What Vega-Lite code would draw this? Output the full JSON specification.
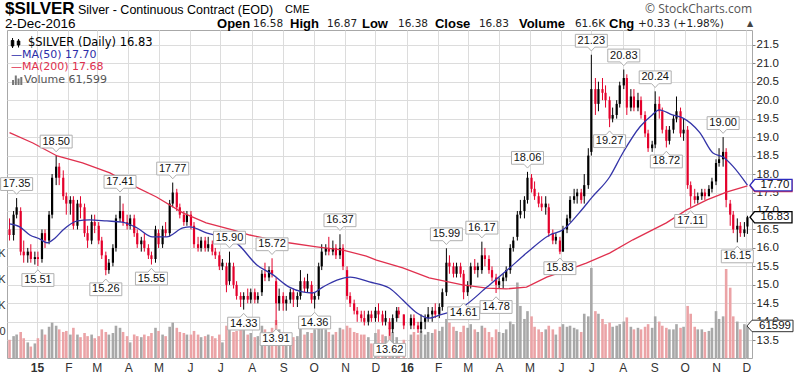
{
"$schema":"https://vega.github.io/schema/vega-lite/v6.json",
"width":745,"height":328,"autosize":"none",
"padding":{"left":7,"top":30,"right":48,"bottom":25},
"background":"white",
"config":{"view":{"stroke":"#a8a8a8","strokeWidth":1},"axis":{"domain":false,"gridColor":"#dcdcdc","gridWidth":1,"labelFont":"Liberation Sans","labelColor":"#333"}},
"datasets":{
"c":[
{"d":"2014-12-05","o":16.5,"h":16.8,"l":16.2,"c":16.35,"v":35},
{"d":"2014-12-09","o":16.35,"h":17.0,"l":16.2,"c":16.9,"v":42},
{"d":"2014-12-12","o":16.9,"h":17.35,"l":16.8,"c":17.1,"v":45},
{"d":"2014-12-16","o":17.0,"h":17.1,"l":15.8,"c":15.9,"v":50},
{"d":"2014-12-19","o":15.9,"h":16.2,"l":15.6,"c":15.8,"v":38},
{"d":"2014-12-23","o":15.8,"h":16.0,"l":15.6,"c":15.9,"v":30},
{"d":"2014-12-26","o":15.9,"h":16.1,"l":15.6,"c":15.7,"v":22},
{"d":"2014-12-30","o":15.7,"h":15.9,"l":15.55,"c":15.75,"v":28},
{"d":"2015-01-02","o":15.75,"h":15.9,"l":15.51,"c":15.7,"v":38},
{"d":"2015-01-06","o":15.7,"h":16.5,"l":15.6,"c":16.4,"v":55},
{"d":"2015-01-09","o":16.4,"h":16.5,"l":16.0,"c":16.2,"v":45},
{"d":"2015-01-13","o":16.2,"h":17.0,"l":16.1,"c":16.9,"v":60},
{"d":"2015-01-16","o":16.9,"h":18.0,"l":16.8,"c":17.9,"v":68},
{"d":"2015-01-20","o":17.9,"h":18.5,"l":17.7,"c":18.2,"v":62},
{"d":"2015-01-23","o":18.2,"h":18.3,"l":17.7,"c":17.9,"v":55},
{"d":"2015-01-27","o":17.9,"h":18.1,"l":17.3,"c":17.4,"v":50},
{"d":"2015-01-30","o":17.4,"h":17.5,"l":16.9,"c":17.2,"v":52},
{"d":"2015-02-03","o":17.2,"h":17.4,"l":16.9,"c":17.3,"v":45},
{"d":"2015-02-06","o":17.3,"h":17.4,"l":16.5,"c":16.6,"v":58},
{"d":"2015-02-10","o":16.6,"h":17.3,"l":16.5,"c":17.2,"v":45},
{"d":"2015-02-13","o":17.2,"h":17.4,"l":16.8,"c":17.1,"v":40},
{"d":"2015-02-17","o":17.1,"h":17.2,"l":16.3,"c":16.4,"v":48},
{"d":"2015-02-20","o":16.4,"h":16.6,"l":16.0,"c":16.2,"v":42},
{"d":"2015-02-24","o":16.2,"h":16.9,"l":16.1,"c":16.7,"v":45},
{"d":"2015-02-27","o":16.7,"h":16.9,"l":16.4,"c":16.6,"v":38},
{"d":"2015-03-03","o":16.6,"h":16.7,"l":16.1,"c":16.2,"v":42},
{"d":"2015-03-06","o":16.2,"h":16.3,"l":15.7,"c":15.8,"v":55},
{"d":"2015-03-10","o":15.8,"h":15.9,"l":15.26,"c":15.4,"v":50},
{"d":"2015-03-13","o":15.4,"h":15.7,"l":15.3,"c":15.6,"v":45},
{"d":"2015-03-17","o":15.6,"h":16.1,"l":15.5,"c":16.0,"v":48},
{"d":"2015-03-20","o":16.0,"h":16.9,"l":15.9,"c":16.8,"v":62},
{"d":"2015-03-24","o":16.8,"h":17.41,"l":16.7,"c":17.0,"v":58},
{"d":"2015-03-27","o":17.0,"h":17.2,"l":16.6,"c":16.7,"v":50},
{"d":"2015-03-31","o":16.7,"h":16.9,"l":16.5,"c":16.6,"v":42},
{"d":"2015-04-03","o":16.6,"h":16.9,"l":16.5,"c":16.8,"v":30},
{"d":"2015-04-07","o":16.8,"h":16.9,"l":16.3,"c":16.4,"v":45},
{"d":"2015-04-10","o":16.4,"h":16.5,"l":16.0,"c":16.1,"v":42},
{"d":"2015-04-14","o":16.1,"h":16.3,"l":15.9,"c":16.2,"v":40},
{"d":"2015-04-17","o":16.2,"h":16.4,"l":15.9,"c":16.0,"v":45},
{"d":"2015-04-21","o":16.0,"h":16.1,"l":15.7,"c":15.8,"v":42},
{"d":"2015-04-24","o":15.8,"h":15.9,"l":15.55,"c":15.7,"v":48},
{"d":"2015-04-28","o":15.7,"h":16.6,"l":15.6,"c":16.5,"v":58},
{"d":"2015-05-01","o":16.4,"h":16.5,"l":16.0,"c":16.1,"v":52},
{"d":"2015-05-05","o":16.1,"h":16.6,"l":16.0,"c":16.5,"v":45},
{"d":"2015-05-08","o":16.5,"h":16.7,"l":16.3,"c":16.4,"v":42},
{"d":"2015-05-12","o":16.4,"h":17.3,"l":16.3,"c":17.2,"v":60},
{"d":"2015-05-15","o":17.2,"h":17.77,"l":17.1,"c":17.5,"v":68},
{"d":"2015-05-19","o":17.5,"h":17.6,"l":17.0,"c":17.1,"v":58},
{"d":"2015-05-22","o":17.1,"h":17.2,"l":16.8,"c":16.9,"v":50},
{"d":"2015-05-26","o":16.9,"h":17.0,"l":16.6,"c":16.7,"v":48},
{"d":"2015-05-29","o":16.7,"h":17.0,"l":16.6,"c":16.9,"v":45},
{"d":"2015-06-02","o":16.9,"h":17.0,"l":16.5,"c":16.6,"v":45},
{"d":"2015-06-05","o":16.6,"h":16.7,"l":16.0,"c":16.1,"v":52},
{"d":"2015-06-09","o":16.1,"h":16.3,"l":15.9,"c":16.0,"v":45},
{"d":"2015-06-12","o":16.0,"h":16.3,"l":15.9,"c":16.2,"v":40},
{"d":"2015-06-16","o":16.2,"h":16.3,"l":15.9,"c":16.0,"v":42},
{"d":"2015-06-19","o":16.0,"h":16.3,"l":15.9,"c":16.1,"v":45},
{"d":"2015-06-23","o":16.1,"h":16.2,"l":15.8,"c":15.9,"v":42},
{"d":"2015-06-26","o":15.9,"h":16.0,"l":15.7,"c":15.8,"v":38},
{"d":"2015-06-30","o":15.8,"h":15.9,"l":15.4,"c":15.5,"v":45},
{"d":"2015-07-03","o":15.5,"h":15.7,"l":15.4,"c":15.6,"v":30},
{"d":"2015-07-07","o":15.5,"h":15.6,"l":14.8,"c":15.0,"v":62},
{"d":"2015-07-10","o":15.1,"h":15.9,"l":15.0,"c":15.6,"v":55},
{"d":"2015-07-14","o":15.5,"h":15.6,"l":14.9,"c":15.0,"v":50},
{"d":"2015-07-17","o":15.0,"h":15.1,"l":14.6,"c":14.7,"v":52},
{"d":"2015-07-21","o":14.7,"h":14.8,"l":14.4,"c":14.6,"v":60},
{"d":"2015-07-24","o":14.6,"h":14.8,"l":14.33,"c":14.7,"v":58},
{"d":"2015-07-28","o":14.7,"h":14.9,"l":14.5,"c":14.6,"v":45},
{"d":"2015-07-31","o":14.6,"h":14.9,"l":14.5,"c":14.8,"v":48},
{"d":"2015-08-04","o":14.8,"h":14.9,"l":14.5,"c":14.6,"v":40},
{"d":"2015-08-07","o":14.6,"h":14.8,"l":14.5,"c":14.7,"v":42},
{"d":"2015-08-11","o":14.8,"h":15.4,"l":14.7,"c":15.3,"v":62},
{"d":"2015-08-14","o":15.3,"h":15.6,"l":15.1,"c":15.2,"v":55},
{"d":"2015-08-18","o":15.2,"h":15.5,"l":15.1,"c":15.4,"v":50},
{"d":"2015-08-21","o":15.4,"h":15.72,"l":15.2,"c":15.3,"v":58},
{"d":"2015-08-25","o":15.1,"h":15.2,"l":13.91,"c":14.5,"v":73},
{"d":"2015-08-28","o":14.5,"h":14.9,"l":14.3,"c":14.7,"v":55},
{"d":"2015-09-01","o":14.7,"h":14.8,"l":14.3,"c":14.5,"v":50},
{"d":"2015-09-04","o":14.5,"h":14.7,"l":14.3,"c":14.6,"v":42},
{"d":"2015-09-08","o":14.6,"h":14.9,"l":14.5,"c":14.8,"v":45},
{"d":"2015-09-11","o":14.8,"h":14.9,"l":14.4,"c":14.6,"v":40},
{"d":"2015-09-15","o":14.6,"h":14.8,"l":14.4,"c":14.7,"v":42},
{"d":"2015-09-18","o":14.7,"h":15.4,"l":14.6,"c":15.1,"v":62},
{"d":"2015-09-22","o":15.1,"h":15.2,"l":14.8,"c":14.9,"v":45},
{"d":"2015-09-25","o":14.9,"h":15.3,"l":14.8,"c":15.1,"v":50},
{"d":"2015-09-29","o":15.0,"h":15.1,"l":14.5,"c":14.6,"v":48},
{"d":"2015-10-02","o":14.6,"h":14.8,"l":14.36,"c":14.7,"v":55},
{"d":"2015-10-06","o":14.7,"h":15.6,"l":14.6,"c":15.5,"v":62},
{"d":"2015-10-09","o":15.5,"h":16.1,"l":15.4,"c":15.9,"v":65},
{"d":"2015-10-13","o":15.9,"h":16.1,"l":15.8,"c":16.0,"v":55},
{"d":"2015-10-16","o":16.0,"h":16.3,"l":15.8,"c":15.9,"v":50},
{"d":"2015-10-20","o":15.9,"h":16.2,"l":15.8,"c":16.0,"v":45},
{"d":"2015-10-23","o":16.0,"h":16.1,"l":15.7,"c":15.8,"v":50},
{"d":"2015-10-27","o":15.8,"h":16.37,"l":15.7,"c":16.0,"v":58},
{"d":"2015-10-30","o":16.0,"h":16.1,"l":15.4,"c":15.5,"v":55},
{"d":"2015-11-03","o":15.4,"h":15.5,"l":14.6,"c":14.7,"v":62},
{"d":"2015-11-06","o":14.7,"h":14.8,"l":14.4,"c":14.5,"v":58},
{"d":"2015-11-10","o":14.5,"h":14.6,"l":14.2,"c":14.3,"v":50},
{"d":"2015-11-13","o":14.3,"h":14.4,"l":14.0,"c":14.2,"v":48},
{"d":"2015-11-17","o":14.2,"h":14.3,"l":14.0,"c":14.1,"v":45},
{"d":"2015-11-20","o":14.1,"h":14.3,"l":13.9,"c":14.0,"v":45},
{"d":"2015-11-24","o":14.0,"h":14.3,"l":13.9,"c":14.2,"v":40},
{"d":"2015-11-27","o":14.2,"h":14.3,"l":14.0,"c":14.1,"v":28},
{"d":"2015-12-01","o":14.1,"h":14.4,"l":14.0,"c":14.3,"v":48},
{"d":"2015-12-04","o":14.3,"h":14.5,"l":14.0,"c":14.2,"v":55},
{"d":"2015-12-08","o":14.2,"h":14.3,"l":13.9,"c":14.0,"v":45},
{"d":"2015-12-11","o":14.0,"h":14.3,"l":13.9,"c":14.1,"v":42},
{"d":"2015-12-15","o":14.0,"h":14.1,"l":13.62,"c":13.8,"v":58},
{"d":"2015-12-18","o":13.8,"h":14.2,"l":13.7,"c":14.1,"v":50},
{"d":"2015-12-22","o":14.1,"h":14.4,"l":14.0,"c":14.3,"v":40},
{"d":"2015-12-24","o":14.3,"h":14.4,"l":14.1,"c":14.2,"v":22},
{"d":"2015-12-29","o":14.2,"h":14.2,"l":13.8,"c":13.9,"v":35},
{"d":"2016-01-05","o":13.9,"h":14.2,"l":13.8,"c":14.1,"v":45},
{"d":"2016-01-08","o":14.1,"h":14.2,"l":13.8,"c":13.9,"v":50},
{"d":"2016-01-12","o":13.9,"h":14.0,"l":13.7,"c":13.8,"v":45},
{"d":"2016-01-15","o":13.8,"h":14.2,"l":13.7,"c":14.0,"v":52},
{"d":"2016-01-19","o":14.0,"h":14.2,"l":13.8,"c":14.1,"v":45},
{"d":"2016-01-22","o":14.1,"h":14.4,"l":14.0,"c":14.2,"v":50},
{"d":"2016-01-26","o":14.2,"h":14.4,"l":14.0,"c":14.3,"v":48},
{"d":"2016-01-29","o":14.3,"h":14.5,"l":14.1,"c":14.2,"v":55},
{"d":"2016-02-02","o":14.2,"h":14.5,"l":14.1,"c":14.4,"v":52},
{"d":"2016-02-05","o":14.4,"h":14.9,"l":14.3,"c":14.8,"v":60},
{"d":"2016-02-09","o":14.8,"h":15.99,"l":14.7,"c":15.6,"v":75},
{"d":"2016-02-12","o":15.6,"h":15.8,"l":15.3,"c":15.5,"v":68},
{"d":"2016-02-16","o":15.5,"h":15.6,"l":15.2,"c":15.3,"v":60},
{"d":"2016-02-19","o":15.3,"h":15.6,"l":15.2,"c":15.5,"v":52},
{"d":"2016-02-23","o":15.5,"h":15.6,"l":15.2,"c":15.3,"v":50},
{"d":"2016-02-26","o":15.3,"h":15.4,"l":14.61,"c":14.8,"v":62},
{"d":"2016-03-01","o":14.8,"h":15.1,"l":14.7,"c":15.0,"v":58},
{"d":"2016-03-04","o":15.0,"h":15.6,"l":14.9,"c":15.5,"v":65},
{"d":"2016-03-08","o":15.5,"h":15.7,"l":15.3,"c":15.4,"v":55},
{"d":"2016-03-11","o":15.4,"h":15.6,"l":15.2,"c":15.5,"v":50},
{"d":"2016-03-15","o":15.4,"h":16.17,"l":15.3,"c":15.8,"v":62},
{"d":"2016-03-18","o":15.8,"h":16.0,"l":15.5,"c":15.7,"v":58},
{"d":"2016-03-22","o":15.7,"h":15.8,"l":15.3,"c":15.4,"v":50},
{"d":"2016-03-25","o":15.4,"h":15.5,"l":15.1,"c":15.2,"v":40},
{"d":"2016-03-29","o":15.2,"h":15.3,"l":14.78,"c":15.0,"v":55},
{"d":"2016-04-01","o":15.0,"h":15.2,"l":14.9,"c":15.1,"v":50},
{"d":"2016-04-05","o":15.1,"h":15.3,"l":14.9,"c":15.2,"v":48},
{"d":"2016-04-08","o":15.2,"h":15.5,"l":15.1,"c":15.4,"v":55},
{"d":"2016-04-12","o":15.4,"h":16.1,"l":15.3,"c":16.0,"v":70},
{"d":"2016-04-15","o":16.0,"h":16.3,"l":15.9,"c":16.2,"v":65},
{"d":"2016-04-19","o":16.3,"h":17.0,"l":16.2,"c":16.9,"v":145},
{"d":"2016-04-22","o":16.9,"h":17.3,"l":16.8,"c":17.0,"v":100},
{"d":"2016-04-26","o":17.0,"h":17.4,"l":16.8,"c":17.3,"v":75},
{"d":"2016-04-29","o":17.3,"h":18.06,"l":17.2,"c":17.9,"v":90},
{"d":"2016-05-03","o":17.9,"h":18.0,"l":17.5,"c":17.6,"v":80},
{"d":"2016-05-06","o":17.6,"h":17.8,"l":17.3,"c":17.4,"v":60},
{"d":"2016-05-10","o":17.4,"h":17.5,"l":17.1,"c":17.2,"v":55},
{"d":"2016-05-13","o":17.2,"h":17.4,"l":17.0,"c":17.1,"v":50},
{"d":"2016-05-17","o":17.1,"h":17.4,"l":16.9,"c":17.2,"v":55},
{"d":"2016-05-20","o":17.1,"h":17.2,"l":16.3,"c":16.4,"v":62},
{"d":"2016-05-24","o":16.4,"h":16.5,"l":16.1,"c":16.2,"v":55},
{"d":"2016-05-27","o":16.2,"h":16.4,"l":16.1,"c":16.3,"v":45},
{"d":"2016-05-31","o":16.2,"h":16.3,"l":15.83,"c":15.9,"v":60},
{"d":"2016-06-03","o":15.9,"h":16.6,"l":15.9,"c":16.5,"v":65},
{"d":"2016-06-07","o":16.5,"h":16.9,"l":16.4,"c":16.8,"v":60},
{"d":"2016-06-10","o":16.8,"h":17.4,"l":16.7,"c":17.3,"v":62},
{"d":"2016-06-14","o":17.3,"h":17.6,"l":17.2,"c":17.4,"v":58},
{"d":"2016-06-17","o":17.4,"h":17.6,"l":17.2,"c":17.5,"v":55},
{"d":"2016-06-21","o":17.5,"h":17.6,"l":17.2,"c":17.3,"v":50},
{"d":"2016-06-24","o":17.4,"h":18.0,"l":17.2,"c":17.7,"v":85},
{"d":"2016-06-28","o":17.7,"h":18.7,"l":17.6,"c":18.5,"v":80},
{"d":"2016-07-01","o":18.6,"h":21.23,"l":18.5,"c":20.3,"v":173},
{"d":"2016-07-05","o":20.3,"h":20.6,"l":19.6,"c":19.9,"v":90},
{"d":"2016-07-08","o":19.9,"h":20.5,"l":19.7,"c":20.3,"v":85},
{"d":"2016-07-12","o":20.3,"h":20.6,"l":20.0,"c":20.2,"v":75},
{"d":"2016-07-15","o":20.2,"h":20.4,"l":19.8,"c":20.0,"v":65},
{"d":"2016-07-19","o":20.0,"h":20.1,"l":19.27,"c":19.5,"v":68},
{"d":"2016-07-22","o":19.5,"h":19.8,"l":19.4,"c":19.6,"v":60},
{"d":"2016-07-26","o":19.6,"h":20.0,"l":19.5,"c":19.9,"v":62},
{"d":"2016-07-29","o":19.9,"h":20.5,"l":19.8,"c":20.4,"v":65},
{"d":"2016-08-02","o":20.4,"h":20.83,"l":20.3,"c":20.6,"v":70},
{"d":"2016-08-05","o":20.6,"h":20.7,"l":19.6,"c":19.8,"v":78},
{"d":"2016-08-09","o":19.8,"h":20.3,"l":19.7,"c":20.1,"v":60},
{"d":"2016-08-12","o":20.1,"h":20.3,"l":19.7,"c":19.8,"v":55},
{"d":"2016-08-16","o":19.8,"h":20.2,"l":19.7,"c":20.0,"v":58},
{"d":"2016-08-19","o":20.0,"h":20.1,"l":19.5,"c":19.6,"v":55},
{"d":"2016-08-23","o":19.6,"h":19.7,"l":19.0,"c":19.1,"v":60},
{"d":"2016-08-26","o":19.1,"h":19.2,"l":18.6,"c":18.7,"v":65},
{"d":"2016-08-30","o":18.7,"h":18.9,"l":18.6,"c":18.8,"v":58},
{"d":"2016-09-02","o":18.8,"h":20.24,"l":18.7,"c":19.9,"v":80},
{"d":"2016-09-06","o":19.9,"h":20.1,"l":19.5,"c":19.7,"v":70},
{"d":"2016-09-09","o":19.7,"h":19.8,"l":19.1,"c":19.2,"v":62},
{"d":"2016-09-13","o":19.2,"h":19.3,"l":18.72,"c":18.9,"v":58},
{"d":"2016-09-16","o":18.9,"h":19.3,"l":18.8,"c":19.2,"v":55},
{"d":"2016-09-20","o":19.2,"h":19.6,"l":19.1,"c":19.5,"v":55},
{"d":"2016-09-23","o":19.5,"h":20.1,"l":19.4,"c":19.7,"v":65},
{"d":"2016-09-27","o":19.7,"h":19.8,"l":19.0,"c":19.1,"v":58},
{"d":"2016-09-30","o":19.1,"h":19.5,"l":18.9,"c":19.2,"v":60},
{"d":"2016-10-04","o":19.2,"h":19.3,"l":17.6,"c":17.7,"v":100},
{"d":"2016-10-07","o":17.7,"h":17.8,"l":17.11,"c":17.4,"v":85},
{"d":"2016-10-11","o":17.4,"h":17.6,"l":17.2,"c":17.3,"v":60},
{"d":"2016-10-14","o":17.3,"h":17.5,"l":17.2,"c":17.4,"v":55},
{"d":"2016-10-18","o":17.4,"h":17.6,"l":17.3,"c":17.5,"v":55},
{"d":"2016-10-21","o":17.5,"h":17.6,"l":17.3,"c":17.4,"v":50},
{"d":"2016-10-25","o":17.4,"h":17.7,"l":17.4,"c":17.6,"v":52},
{"d":"2016-10-28","o":17.6,"h":17.9,"l":17.5,"c":17.8,"v":58},
{"d":"2016-11-01","o":17.8,"h":18.4,"l":17.7,"c":18.3,"v":90},
{"d":"2016-11-04","o":18.3,"h":18.7,"l":18.2,"c":18.4,"v":75},
{"d":"2016-11-08","o":18.4,"h":19.0,"l":18.2,"c":18.6,"v":80},
{"d":"2016-11-11","o":18.6,"h":18.7,"l":17.1,"c":17.3,"v":171},
{"d":"2016-11-15","o":17.2,"h":17.3,"l":16.6,"c":16.9,"v":135},
{"d":"2016-11-18","o":16.9,"h":17.0,"l":16.4,"c":16.5,"v":80},
{"d":"2016-11-22","o":16.5,"h":16.8,"l":16.15,"c":16.6,"v":70},
{"d":"2016-11-25","o":16.6,"h":16.7,"l":16.3,"c":16.4,"v":55},
{"d":"2016-11-29","o":16.4,"h":16.7,"l":16.3,"c":16.5,"v":65},
{"d":"2016-12-02","o":16.58,"h":16.87,"l":16.38,"c":16.83,"v":61.6}
],
"ma50":[
{"d":"2014-12-05","m":16.65},{"d":"2014-12-15","m":16.57},{"d":"2014-12-25","m":16.35},{"d":"2015-01-04","m":16.24},{"d":"2015-01-11","m":16.14},{"d":"2015-01-19","m":16.27},{"d":"2015-01-27","m":16.49},{"d":"2015-02-10","m":16.73},{"d":"2015-02-22","m":16.76},{"d":"2015-03-11","m":16.73},{"d":"2015-03-26","m":16.70},{"d":"2015-04-10","m":16.54},{"d":"2015-04-25","m":16.30},{"d":"2015-05-09","m":16.30},{"d":"2015-05-25","m":16.54},{"d":"2015-06-01","m":16.57},{"d":"2015-06-18","m":16.40},{"d":"2015-07-03","m":16.30},{"d":"2015-07-17","m":16.13},{"d":"2015-08-06","m":15.54},{"d":"2015-08-22","m":15.27},{"d":"2015-09-07","m":14.94},{"d":"2015-09-20","m":14.81},{"d":"2015-09-30","m":14.78},{"d":"2015-10-10","m":14.94},{"d":"2015-10-24","m":15.13},{"d":"2015-11-06","m":15.21},{"d":"2015-11-25","m":15.08},{"d":"2015-12-15","m":14.91},{"d":"2015-12-28","m":14.59},{"d":"2016-01-11","m":14.24},{"d":"2016-01-23","m":14.10},{"d":"2016-02-02","m":14.18},{"d":"2016-02-25","m":14.40},{"d":"2016-03-20","m":14.94},{"d":"2016-04-09","m":15.40},{"d":"2016-04-28","m":15.86},{"d":"2016-05-21","m":16.35},{"d":"2016-06-03","m":16.49},{"d":"2016-06-19","m":16.95},{"d":"2016-07-02","m":17.38},{"d":"2016-07-19","m":17.92},{"d":"2016-08-01","m":18.57},{"d":"2016-08-18","m":19.28},{"d":"2016-08-30","m":19.60},{"d":"2016-09-06","m":19.74},{"d":"2016-09-19","m":19.60},{"d":"2016-09-29","m":19.52},{"d":"2016-10-16","m":19.12},{"d":"2016-10-29","m":18.57},{"d":"2016-11-08","m":18.46},{"d":"2016-11-18","m":18.20},{"d":"2016-12-02","m":17.70}
],
"ma200":[
{"d":"2014-12-05","m":19.12},{"d":"2014-12-28","m":18.84},{"d":"2015-01-21","m":18.49},{"d":"2015-02-15","m":18.30},{"d":"2015-03-14","m":18.03},{"d":"2015-04-05","m":17.70},{"d":"2015-04-29","m":17.38},{"d":"2015-05-25","m":16.95},{"d":"2015-06-17","m":16.68},{"d":"2015-07-13","m":16.49},{"d":"2015-07-30","m":16.35},{"d":"2015-09-01","m":16.16},{"d":"2015-10-04","m":16.03},{"d":"2015-10-30","m":15.94},{"d":"2015-11-22","m":15.78},{"d":"2015-12-02","m":15.67},{"d":"2015-12-28","m":15.46},{"d":"2016-01-23","m":15.19},{"d":"2016-02-25","m":15.00},{"d":"2016-03-20","m":14.91},{"d":"2016-04-08","m":14.89},{"d":"2016-04-28","m":14.94},{"d":"2016-05-18","m":15.21},{"d":"2016-06-07","m":15.40},{"d":"2016-06-26","m":15.59},{"d":"2016-07-19","m":15.86},{"d":"2016-08-11","m":16.22},{"d":"2016-09-13","m":16.68},{"d":"2016-10-03","m":17.03},{"d":"2016-10-23","m":17.30},{"d":"2016-11-12","m":17.52},{"d":"2016-12-02","m":17.68}
],
"hi":[
{"d":"2014-12-12","p":17.35},{"d":"2015-01-20","p":18.50},{"d":"2015-03-24","p":17.41},{"d":"2015-05-15","p":17.77},{"d":"2015-07-10","p":15.90},{"d":"2015-08-21","p":15.72},{"d":"2015-10-27","p":16.37},{"d":"2016-02-09","p":15.99},{"d":"2016-03-15","p":16.17},{"d":"2016-04-29","p":18.06},{"d":"2016-07-01","p":21.23},{"d":"2016-08-02","p":20.83},{"d":"2016-09-02","p":20.24},{"d":"2016-11-08","p":19.00}
],
"lo":[
{"d":"2015-01-02","p":15.51},{"d":"2015-03-10","p":15.26},{"d":"2015-04-24","p":15.55},{"d":"2015-07-24","p":14.33},{"d":"2015-08-25","p":13.91},{"d":"2015-10-02","p":14.36},{"d":"2015-12-15","p":13.62},{"d":"2016-02-26","p":14.61},{"d":"2016-03-29","p":14.78},{"d":"2016-05-31","p":15.83},{"d":"2016-07-19","p":19.27},{"d":"2016-09-13","p":18.72},{"d":"2016-10-07","p":17.11},{"d":"2016-11-22","p":16.15}
],
"tags":[
{"k":"ma200","p":17.68,"t":"17.68"},{"k":"ma50","p":17.70,"t":"17.70"},{"k":"last","p":16.83,"t":"16.83"}
]
},
"resolve":{"scale":{"y":"independent"},"axis":{"y":"independent"}},
"layer":[
{"layer":[
 {"data":{"name":"c"},"mark":{"type":"bar","size":2.6},
  "encoding":{
   "x":{"field":"d","type":"temporal","scale":{"type":"utc","domain":[{"year":2014,"month":12,"date":2,"hours":12,"utc":true},{"year":2016,"month":12,"date":6,"hours":12,"utc":true}],"nice":false,"padding":0}},
   "y":{"field":"v","type":"quantitative","scale":{"domain":[0,630],"nice":false},"axis":{"title":null,"orient":"left","values":[50,100,150,200],"tickCount":20,"labelExpr":"datum.value >= 100 ? datum.value + 'K' : datum.value + '000'","grid":false,"ticks":false,"labelPadding":2,"labelFontSize":11,"labelColor":"#333","labelOverlap":false}},
   "color":{"condition":{"test":"datum.c < datum.o","value":"#eba3a6"},"value":"#a8a8a8"}}},
 {"data":{"values":[{}]},"mark":{"type":"point","shape":"M-1,0L-0.78,-0.25H1V0.25H-0.78Z","size":2116,"filled":true,"fill":"white","stroke":"#333","strokeWidth":1,"opacity":1,"xOffset":18},
  "encoding":{"x":{"datum":{"year":2016,"month":12,"date":6,"hours":12,"utc":true},"type":"temporal"},"y":{"datum":61.6}}},
 {"data":{"values":[{}]},"mark":{"type":"text","xOffset":23,"font":"Liberation Sans","fontSize":11.5,"color":"#111","baseline":"middle"},
  "encoding":{"x":{"datum":{"year":2016,"month":12,"date":6,"hours":12,"utc":true},"type":"temporal"},"y":{"datum":61.6},"text":{"value":"61599"}}}
]},
{"layer":[
 {"data":{"name":"c"},"mark":{"type":"rule","strokeWidth":1},
  "encoding":{
   "x":{"field":"d","type":"temporal","scale":{"type":"utc","domain":[{"year":2014,"month":12,"date":2,"hours":12,"utc":true},{"year":2016,"month":12,"date":6,"hours":12,"utc":true}],"nice":false,"padding":0},
        "axis":{"title":null,"orient":"bottom","tickCount":{"interval":"month","step":1},"grid":true,"ticks":false,"labelPadding":4,"labelFontSize":12,"labelColor":"#333","labelFlush":false,"labelOverlap":false,
                "labelExpr":"utcmonth(datum.value) == 0 ? utcFormat(datum.value, '%y') : substring(utcFormat(datum.value, '%b'), 0, 1)",
                "labelFontWeight":{"condition":{"test":"utcmonth(datum.value) == 0","value":"bold"},"value":"normal"}}},
   "y":{"field":"l","type":"quantitative","scale":{"domain":[13.02,21.9],"nice":false,"zero":false},
        "axis":{"title":null,"orient":"right","values":[13.5,14,14.5,15,15.5,16,16.5,17,17.5,18,18.5,19,19.5,20,20.5,21,21.5],"tickCount":40,"format":".1f","grid":true,"tickSize":3,"tickColor":"#888","labelPadding":1,"labelFontSize":11.5,"labelColor":"#222","labelOverlap":false}},
   "y2":{"field":"h"},
   "color":{"condition":{"test":"datum.c < datum.o","value":"#e4002b"},"value":"#000000"}}},
 {"data":{"name":"c"},"mark":{"type":"bar","size":2.2},
  "encoding":{
   "x":{"field":"d","type":"temporal"},
   "y":{"field":"o","type":"quantitative"},
   "y2":{"field":"c"},
   "color":{"condition":{"test":"datum.c < datum.o","value":"#e4002b"},"value":"#000000"}}},
 {"data":{"name":"ma200"},"mark":{"type":"line","color":"#e0304e","strokeWidth":1.3},
  "encoding":{"x":{"field":"d","type":"temporal"},"y":{"field":"m","type":"quantitative"}}},
 {"data":{"name":"ma50"},"mark":{"type":"line","color":"#3434a8","strokeWidth":1.3,"interpolate":"monotone"},
  "encoding":{"x":{"field":"d","type":"temporal"},"y":{"field":"m","type":"quantitative"}}},
 {"data":{"name":"hi"},"mark":{"type":"point","shape":"M-1,-0.4H1V0.4H0.22L0,0.64L-0.22,0.4H-1Z","size":1024,"filled":true,"fill":"white","stroke":"#b0b0b0","strokeWidth":1,"opacity":1,"yOffset":-14},
  "encoding":{"x":{"field":"d","type":"temporal"},"y":{"field":"p","type":"quantitative"}}},
 {"data":{"name":"hi"},"mark":{"type":"text","font":"Liberation Sans","fontSize":11,"color":"#111","baseline":"middle","yOffset":-14},
  "encoding":{"x":{"field":"d","type":"temporal"},"y":{"field":"p","type":"quantitative"},"text":{"field":"p","type":"quantitative","format":".2f"}}},
 {"data":{"name":"lo"},"mark":{"type":"point","shape":"M-1,0.4H1V-0.4H0.22L0,-0.64L-0.22,-0.4H-1Z","size":1024,"filled":true,"fill":"white","stroke":"#b0b0b0","strokeWidth":1,"opacity":1,"yOffset":14},
  "encoding":{"x":{"field":"d","type":"temporal"},"y":{"field":"p","type":"quantitative"}}},
 {"data":{"name":"lo"},"mark":{"type":"text","font":"Liberation Sans","fontSize":11,"color":"#111","baseline":"middle","yOffset":14},
  "encoding":{"x":{"field":"d","type":"temporal"},"y":{"field":"p","type":"quantitative"},"text":{"field":"p","type":"quantitative","format":".2f"}}},
 {"data":{"name":"tags"},"mark":{"type":"point","shape":"M-1,0L-0.78,-0.27H1V0.27H-0.78Z","size":1764,"filled":true,"fill":"white","strokeWidth":1.3,"opacity":1,"xOffset":19},
  "encoding":{"x":{"datum":{"year":2016,"month":12,"date":6,"hours":12,"utc":true},"type":"temporal"},"y":{"field":"p","type":"quantitative"},
   "stroke":{"field":"k","type":"nominal","scale":{"domain":["ma200","ma50","last"],"range":["#e0304e","#2c2cc0","#000000"]},"legend":null}}},
 {"data":{"name":"tags"},"transform":[{"filter":"datum.k != 'ma200'"}],"mark":{"type":"text","xOffset":23,"font":"Liberation Sans","fontSize":11.5,"color":"#111","baseline":"middle"},
  "encoding":{"x":{"datum":{"year":2016,"month":12,"date":6,"hours":12,"utc":true},"type":"temporal"},"y":{"field":"p","type":"quantitative"},"text":{"field":"t"},
   "fontWeight":{"condition":{"test":"datum.k == 'last'","value":"bold"},"value":"normal"}}},
 {"data":{"values":[{}]},"mark":{"type":"text","align":"left","baseline":"middle","font":"Liberation Sans","fontSize":17,"fontWeight":"bold","color":"#000","dx":-2},
  "encoding":{"x":{"datum":{"year":2014,"month":12,"date":2,"hours":12,"utc":true},"type":"temporal"},"y":{"datum":22.468},"text":{"value":"$SILVER"}}},
 {"data":{"values":[{}]},"mark":{"type":"text","align":"left","baseline":"middle","font":"Liberation Sans","fontSize":12.5,"color":"#000"},
  "encoding":{"x":{"datum":{"year":2015,"month":2,"date":10,"hours":13,"utc":true},"type":"temporal"},"y":{"datum":22.44},"text":{"value":"Silver - Continuous Contract (EOD)"}}},
 {"data":{"values":[{}]},"mark":{"type":"text","align":"left","baseline":"middle","font":"Liberation Sans","fontSize":11,"color":"#000"},
  "encoding":{"x":{"datum":{"year":2015,"month":9,"date":2,"hours":19,"utc":true},"type":"temporal"},"y":{"datum":22.44},"text":{"value":"CME"}}},
 {"data":{"values":[{}]},"mark":{"type":"text","align":"right","baseline":"middle","font":"Open Sans","fontSize":12,"color":"#555"},
  "encoding":{"x":{"datum":{"year":2016,"month":12,"date":6,"hours":12,"utc":true},"type":"temporal"},"y":{"datum":22.468},"text":{"value":"© StockCharts.com"}}},
 {"data":{"values":[{}]},"mark":{"type":"text","align":"left","baseline":"middle","font":"Liberation Sans","fontSize":13.5,"color":"#000","dx":-2},
  "encoding":{"x":{"datum":{"year":2014,"month":12,"date":2,"hours":12,"utc":true},"type":"temporal"},"y":{"datum":22.049},"text":{"value":"2-Dec-2016"}}},
 {"data":{"values":[{}]},"mark":{"type":"text","align":"left","baseline":"middle","font":"Liberation Sans","fontSize":13,"fontWeight":"bold","color":"#000"},
  "encoding":{"x":{"datum":{"year":2015,"month":6,"date":27,"hours":17,"utc":true},"type":"temporal"},"y":{"datum":22.049},"text":{"value":"Open"}}},
 {"data":{"values":[{}]},"mark":{"type":"text","align":"left","baseline":"middle","font":"DejaVu Sans","fontSize":10.5,"color":"#222"},
  "encoding":{"x":{"datum":{"year":2015,"month":8,"date":2,"hours":5,"utc":true},"type":"temporal"},"y":{"datum":22.049},"text":{"value":"16.58"}}},
 {"data":{"values":[{}]},"mark":{"type":"text","align":"left","baseline":"middle","font":"Liberation Sans","fontSize":13,"fontWeight":"bold","color":"#000"},
  "encoding":{"x":{"datum":{"year":2015,"month":9,"date":7,"hours":17,"utc":true},"type":"temporal"},"y":{"datum":22.049},"text":{"value":"High"}}},
 {"data":{"values":[{}]},"mark":{"type":"text","align":"left","baseline":"middle","font":"DejaVu Sans","fontSize":10.5,"color":"#222"},
  "encoding":{"x":{"datum":{"year":2015,"month":10,"date":14,"hours":5,"utc":true},"type":"temporal"},"y":{"datum":22.049},"text":{"value":"16.87"}}},
 {"data":{"values":[{}]},"mark":{"type":"text","align":"left","baseline":"middle","font":"Liberation Sans","fontSize":13,"fontWeight":"bold","color":"#000"},
  "encoding":{"x":{"datum":{"year":2015,"month":11,"date":17,"hours":17,"utc":true},"type":"temporal"},"y":{"datum":22.049},"text":{"value":"Low"}}},
 {"data":{"values":[{}]},"mark":{"type":"text","align":"left","baseline":"middle","font":"DejaVu Sans","fontSize":10.5,"color":"#222"},
  "encoding":{"x":{"datum":{"year":2015,"month":12,"date":23,"hours":5,"utc":true},"type":"temporal"},"y":{"datum":22.049},"text":{"value":"16.38"}}},
 {"data":{"values":[{}]},"mark":{"type":"text","align":"left","baseline":"middle","font":"Liberation Sans","fontSize":13,"fontWeight":"bold","color":"#000"},
  "encoding":{"x":{"datum":{"year":2016,"month":1,"date":28,"hours":17,"utc":true},"type":"temporal"},"y":{"datum":22.049},"text":{"value":"Close"}}},
 {"data":{"values":[{}]},"mark":{"type":"text","align":"left","baseline":"middle","font":"DejaVu Sans","fontSize":10.5,"color":"#222"},
  "encoding":{"x":{"datum":{"year":2016,"month":3,"date":12,"hours":2,"utc":true},"type":"temporal"},"y":{"datum":22.049},"text":{"value":"16.83"}}},
 {"data":{"values":[{}]},"mark":{"type":"text","align":"left","baseline":"middle","font":"Liberation Sans","fontSize":13,"fontWeight":"bold","color":"#000"},
  "encoding":{"x":{"datum":{"year":2016,"month":4,"date":20,"hours":14,"utc":true},"type":"temporal"},"y":{"datum":22.049},"text":{"value":"Volume"}}},
 {"data":{"values":[{}]},"mark":{"type":"text","align":"left","baseline":"middle","font":"DejaVu Sans","fontSize":10.5,"color":"#222"},
  "encoding":{"x":{"datum":{"year":2016,"month":6,"date":14,"hours":19,"utc":true},"type":"temporal"},"y":{"datum":22.049},"text":{"value":"61.6K"}}},
 {"data":{"values":[{}]},"mark":{"type":"text","align":"left","baseline":"middle","font":"Liberation Sans","fontSize":13,"fontWeight":"bold","color":"#000"},
  "encoding":{"x":{"datum":{"year":2016,"month":7,"date":18,"hours":10,"utc":true},"type":"temporal"},"y":{"datum":22.049},"text":{"value":"Chg"}}},
 {"data":{"values":[{}]},"mark":{"type":"text","align":"left","baseline":"middle","font":"DejaVu Sans","fontSize":10.5,"color":"#222"},
  "encoding":{"x":{"datum":{"year":2016,"month":8,"date":16,"hours":0,"utc":true},"type":"temporal"},"y":{"datum":22.049},"text":{"value":"+0.33 (+1.98%)"}}},
 {"data":{"values":[{}]},"mark":{"type":"text","align":"left","baseline":"middle","font":"DejaVu Sans","fontSize":8,"color":"#444"},
  "encoding":{"x":{"datum":{"year":2016,"month":12,"date":1,"hours":14,"utc":true},"type":"temporal"},"y":{"datum":22.049},"text":{"value":"▲"}}},
 {"data":{"values":[{}]},"mark":{"type":"point","shape":"M-0.7,-1V1M-0.95,-0.5H-0.45V0.6H-0.95Z M0.5,-0.8V0.9M0.25,-0.4H0.75V0.4H0.25Z","size":100,"filled":true,"color":"#000","stroke":"#000","strokeWidth":1,"opacity":1},
  "encoding":{"x":{"datum":{"year":2014,"month":12,"date":11,"hours":10,"utc":true},"type":"temporal"},"y":{"datum":21.548}}},
 {"data":{"values":[{}]},"mark":{"type":"text","align":"left","baseline":"middle","font":"DejaVu Sans","fontSize":11.5,"color":"#000"},
  "encoding":{"x":{"datum":{"year":2014,"month":12,"date":23,"hours":5,"utc":true},"type":"temporal"},"y":{"datum":21.548},"text":{"value":"$SILVER (Daily) 16.83"}}},
 {"data":{"values":[{}]},"mark":{"type":"text","align":"left","baseline":"middle","font":"DejaVu Sans","fontSize":11,"color":"#2c2ca8"},
  "encoding":{"x":{"datum":{"year":2014,"month":12,"date":6,"hours":11,"utc":true},"type":"temporal"},"y":{"datum":21.223},"text":{"value":"—MA(50) 17.70"}}},
 {"data":{"values":[{}]},"mark":{"type":"text","align":"left","baseline":"middle","font":"DejaVu Sans","fontSize":11,"color":"#e0304e"},
  "encoding":{"x":{"datum":{"year":2014,"month":12,"date":6,"hours":11,"utc":true},"type":"temporal"},"y":{"datum":20.898},"text":{"value":"—MA(200) 17.68"}}},
 {"data":{"values":[{}]},"mark":{"type":"point","shape":"M-1,1V0H-0.6V1Z M-0.45,1V-0.9H-0.05V1Z M0.1,1V-0.3H0.5V1Z M0.65,1V-0.6H1.05V1Z","size":100,"filled":true,"color":"#777","opacity":1},
  "encoding":{"x":{"datum":{"year":2014,"month":12,"date":12,"hours":10,"utc":true},"type":"temporal"},"y":{"datum":20.546}}},
 {"data":{"values":[{}]},"mark":{"type":"text","align":"left","baseline":"middle","font":"DejaVu Sans","fontSize":11,"color":"#555"},
  "encoding":{"x":{"datum":{"year":2014,"month":12,"date":19,"hours":7,"utc":true},"type":"temporal"},"y":{"datum":20.546},"text":{"value":"Volume 61,599"}}}
]}
]
}
